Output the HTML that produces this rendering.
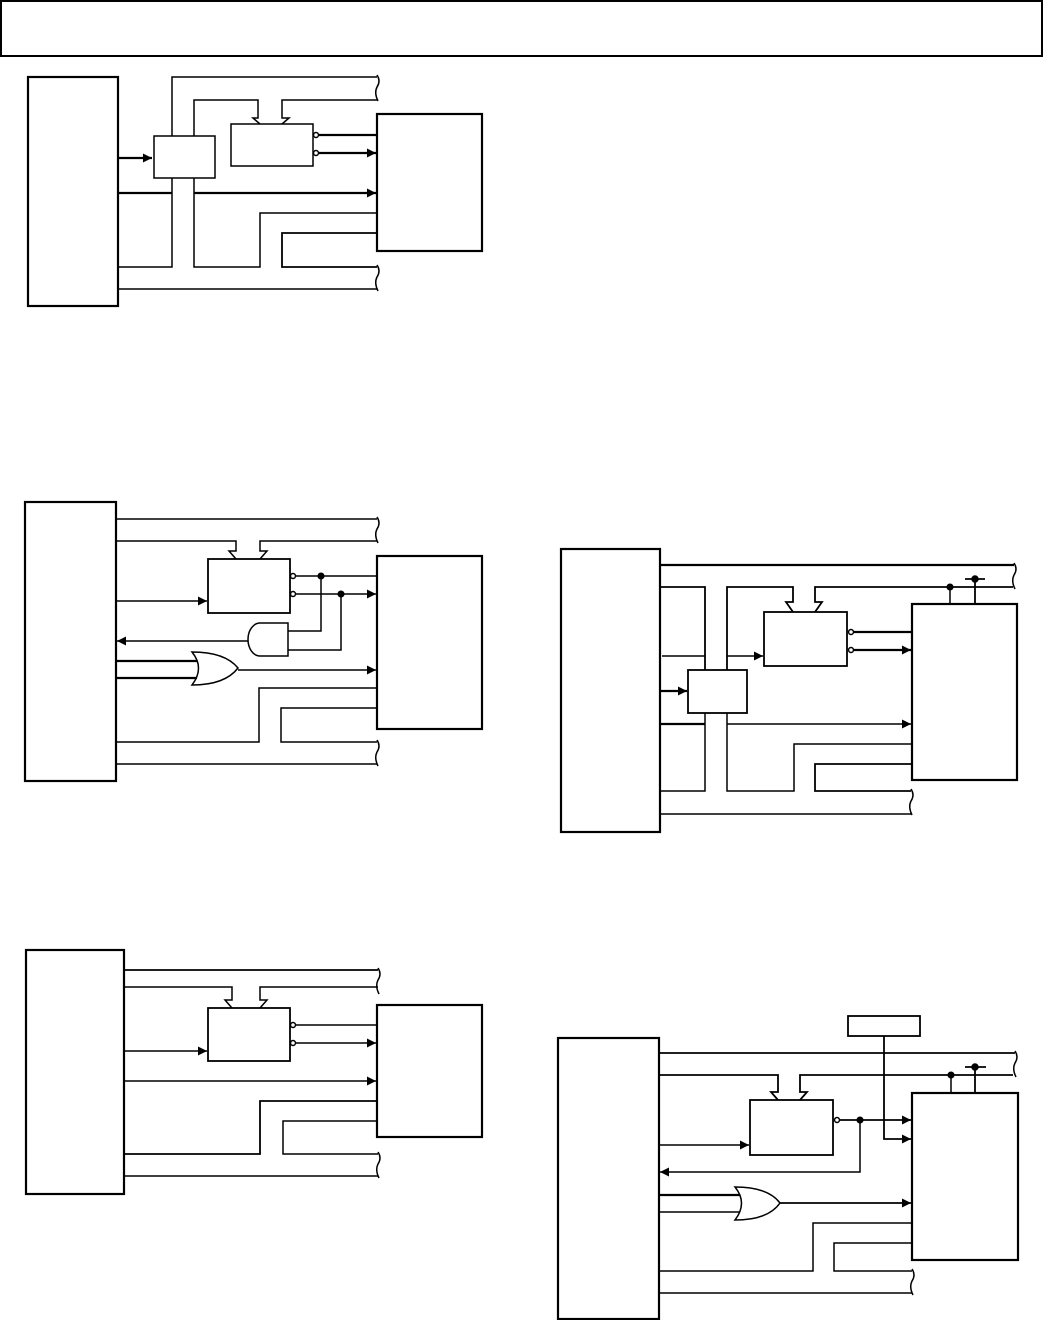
<!DOCTYPE html>
<html><head><meta charset="utf-8"><style>html,body{margin:0;padding:0;background:#fff}svg{display:block}</style></head>
<body>
<svg width="1044" height="1320" viewBox="0 0 1044 1320" xmlns="http://www.w3.org/2000/svg" fill="none" stroke="#000" stroke-width="1.5">
<defs>
<marker id="a" viewBox="0 0 10 10" refX="10" refY="5" markerWidth="13" markerHeight="9" markerUnits="userSpaceOnUse" orient="auto"><path d="M0,0L10,5L0,10z" fill="#000" stroke="none"/></marker>
</defs>
<rect x="1" y="1" width="1041" height="55" stroke-width="2"/>

<!-- Diagram 1 -->
<g>
<rect x="28" y="77" width="90" height="229" stroke-width="2.2"/>
<rect x="154" y="136" width="61" height="42" stroke-width="1.5"/>
<rect x="231" y="124" width="82" height="42" stroke-width="1.5"/>
<rect x="377" y="114" width="105" height="137" stroke-width="2.2"/>
<path d="M172,136V77H377M194,136V100H258V118H253L260,124M282,124L289,118H282V100H377"/>
<path d="M377,75q4,6 0,12q-3,6 1,14" />
<path d="M118,158H152" stroke-width="2.2" marker-end="url(#a)"/>
<circle cx="316" cy="135" r="2.5" fill="#fff"/><circle cx="316" cy="153" r="2.5" fill="#fff"/>
<path d="M319,135H376M319,153H376" stroke-width="2.2" marker-end="url(#a)"/>
<path d="M118,193H172" stroke-width="2.2"/>
<path d="M194,193H376" stroke-width="2.2" marker-end="url(#a)"/>
<path d="M172,178V267H118M194,178V267H260V213H377"/>
<path d="M377,233H282V267H377" stroke-width="1.8"/>
<path d="M118,289H377"/>
<path d="M377,265q4,6 0,12q-3,6 1,14"/>
</g>

<!-- Diagram 2 -->
<g>
<rect x="25" y="502" width="91" height="279" stroke-width="2.2"/>
<rect x="208" y="559" width="82" height="54" stroke-width="1.8"/>
<rect x="377" y="556" width="105" height="173" stroke-width="2.2"/>
<path d="M116,519H377M116,541H236V551H229L236,559M260,559L267,551H260V541H377"/>
<path d="M377,517q4,6 0,12q-3,6 1,14"/>
<circle cx="293" cy="576" r="2.5" fill="#fff"/><circle cx="293" cy="594" r="2.5" fill="#fff"/>
<path d="M296,576H376M296,594H376" marker-end="url(#a)"/>
<circle cx="321" cy="576" r="2.8" fill="#000"/><circle cx="341" cy="594" r="2.8" fill="#000"/>
<path d="M116,601H207" marker-end="url(#a)"/>
<path d="M288,623H260A12,16.5 0 0 0 260,656H288Z"/>
<path d="M248,641H117" marker-end="url(#a)"/>
<path d="M288,631H321V576M288,650H341V594"/>
<path d="M192,652Q205,668 192,685Q225,685 238,668Q225,652 192,652Z"/>
<path d="M116,661H197M116,678H197" stroke-width="2.2"/>
<path d="M238,670H376" marker-end="url(#a)"/>
<path d="M377,688H259V742H116M377,708H281V742H377M116,764H377"/>
<path d="M377,740q4,6 0,12q-3,6 1,14"/>
</g>

<!-- Diagram 3 -->
<g>
<rect x="561" y="549" width="99" height="283" stroke-width="2.2"/>
<rect x="688" y="670" width="59" height="43" stroke-width="1.8"/>
<rect x="764" y="612" width="83" height="54" stroke-width="1.8"/>
<rect x="912" y="604" width="105" height="176" stroke-width="2.2"/>
<path d="M660,565H1014" stroke-width="2.2"/>
<path d="M660,587H705V670M727,670V587H793V602H786L793,612M815,612L822,602H815V587H1013" stroke-width="1.8"/>
<path d="M1014,563q4,6 0,12q-3,6 1,14"/>
<circle cx="950" cy="587" r="2.8" fill="#000"/><path d="M950,587V604"/>
<path d="M965,579H985M975,579V604" stroke-width="1.8"/><circle cx="975" cy="579" r="3" fill="#000"/>
<circle cx="851" cy="632" r="2.5" fill="#fff"/><circle cx="851" cy="650" r="2.5" fill="#fff"/>
<path d="M854,632H911M854,650H911" stroke-width="2.2" marker-end="url(#a)"/>
<path d="M662,656H705"/><path d="M727,656H763" marker-end="url(#a)"/>
<path d="M660,691H687" stroke-width="2.2" marker-end="url(#a)"/>
<path d="M660,724H705" stroke-width="2.2"/><path d="M727,724H911" marker-end="url(#a)"/>
<path d="M705,713V791H660M727,713V791H794V744H912"/>
<path d="M912,764H815V791H911" stroke-width="1.8"/>
<path d="M660,814H911"/>
<path d="M911,789q4,6 0,12q-3,6 1,14"/>
</g>

<!-- Diagram 4 -->
<g>
<rect x="26" y="950" width="98" height="244" stroke-width="2.2"/>
<rect x="208" y="1008" width="82" height="53" stroke-width="1.8"/>
<rect x="377" y="1005" width="105" height="132" stroke-width="2.2"/>
<path d="M124,970H378" stroke-width="1.8"/>
<path d="M124,987H232V1000H225L232,1008M260,1008L267,1000H260V987H378"/>
<path d="M378,968q4,6 0,12q-3,6 1,14"/>
<circle cx="293" cy="1025" r="2.5" fill="#fff"/><circle cx="293" cy="1043" r="2.5" fill="#fff"/>
<path d="M296,1025H376M296,1043H376" marker-end="url(#a)"/>
<path d="M124,1051H207" marker-end="url(#a)"/>
<path d="M124,1081H376" marker-end="url(#a)"/>
<path d="M377,1101H260V1154H124" stroke-width="1.8"/>
<path d="M377,1121H283V1154H378"/>
<path d="M124,1176H378"/>
<path d="M378,1152q4,6 0,12q-3,6 1,14"/>
</g>

<!-- Diagram 5 -->
<g>
<rect x="848" y="1016" width="72" height="20" stroke-width="1.8"/>
<rect x="558" y="1038" width="101" height="281" stroke-width="2.2"/>
<rect x="750" y="1100" width="83" height="55" stroke-width="1.8"/>
<rect x="912" y="1093" width="106" height="167" stroke-width="2.2"/>
<path d="M884,1036V1053M659,1053H1015" stroke-width="1.8"/>
<path d="M659,1075H778V1092H771L778,1100M800,1100L807,1092H800V1075H1013" stroke-width="1.8"/>
<path d="M1015,1051q4,6 0,12q-3,6 1,14"/>
<circle cx="951" cy="1075" r="2.8" fill="#000"/><path d="M951,1075V1093"/>
<path d="M965,1067H986M975,1067V1093" stroke-width="1.8"/><circle cx="975" cy="1067" r="3" fill="#000"/>
<path d="M884,1053V1139H911" stroke-width="1.8" marker-end="url(#a)"/>
<circle cx="837" cy="1120" r="2.5" fill="#fff"/>
<path d="M840,1120H911" stroke-width="1.8" marker-end="url(#a)"/>
<circle cx="860" cy="1120" r="2.8" fill="#000"/>
<path d="M860,1120V1172H660" marker-end="url(#a)"/>
<path d="M659,1145H749" marker-end="url(#a)"/>
<path d="M735,1187Q748,1203 735,1220Q768,1220 780,1203Q768,1187 735,1187Z"/>
<path d="M659,1195H740" stroke-width="2.2"/><path d="M659,1212H740"/>
<path d="M780,1203H911" stroke-width="1.8" marker-end="url(#a)"/>
<path d="M912,1223H813V1271H659M912,1243H834V1271H912M659,1293H912"/>
<path d="M912,1269q4,6 0,12q-3,6 1,14"/>
</g>
</svg>
</body></html>
